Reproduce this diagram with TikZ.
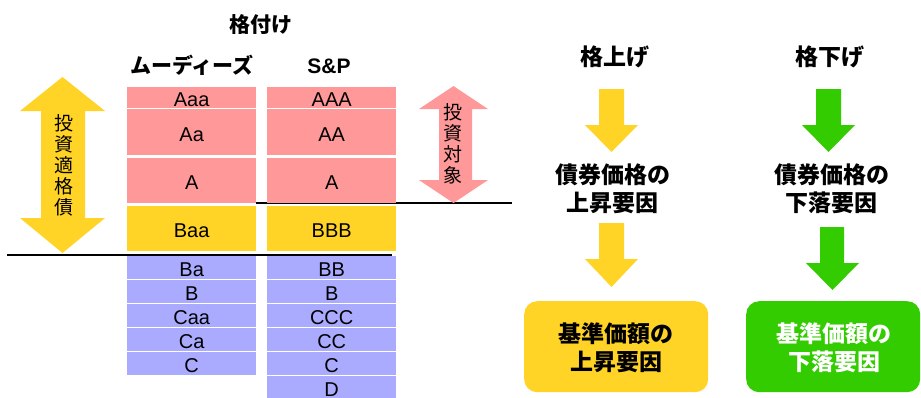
\documentclass[tikz,border=0pt]{standalone}
\usepackage{fontspec}
\setmainfont{Liberation Sans}
\newfontfamily\jp{Noto Sans CJK JP}
\definecolor{pinkc}{RGB}{255,153,153}
\definecolor{yellowc}{RGB}{255,212,38}
\definecolor{bluec}{RGB}{170,170,255}
\definecolor{greenc}{RGB}{51,204,0}
\begin{document}
\begin{tikzpicture}[x=1pt,y=-1pt,
  rate/.style={anchor=north west, inner sep=0pt, minimum width=129pt, text height=18pt, text depth=0pt, font=\fontsize{20}{24}\selectfont},
  head/.style={inner sep=0pt, font=\jp\bfseries\fontsize{21}{24}\selectfont},
  vtext/.style={inner sep=0pt, align=center, font=\jp\fontsize{19}{21}\selectfont},
  rtext/.style={inner sep=0pt, align=center, font=\jp\bfseries\fontsize{23}{28}\selectfont},
  rule/.style={black, line width=1.5pt},
  resbox/.style={rounded corners=13pt, minimum width=184pt, minimum height=91pt, inner sep=0pt, anchor=north west}
]
\fill[white] (0,0) rectangle (921,397);
\useasboundingbox (0,0) rectangle (921,397);

% headings
\node[head] (kakuzuke) at (261,25) {格付け};
\node[head] (moodys) at (192,65) {ムーディーズ};
\node[inner sep=0pt, font=\bfseries\fontsize{21}{24}\selectfont] (sp) at (329,66) {S\&P};

% rules
\coordinate (l1a) at (7,255);
\coordinate (l1b) at (392,255);
\coordinate (l2a) at (256,203);
\coordinate (l2b) at (512,203);
\draw[rule] (l1a) -- (l1b);
\draw[rule] (l2a) -- (l2b);

% Moody's
\node[rate, fill=pinkc, minimum height=21pt] (m1) at (127,87) {Aaa};
\node[rate, fill=pinkc, minimum height=46pt] (m2) at (127,109) {Aa};
\node[rate, fill=pinkc, minimum height=45pt] (m3) at (127,158) {A};
\node[rate, fill=yellowc, minimum height=45pt] (m4) at (127,206) {Baa};
\node[rate, fill=bluec, minimum height=23pt] (m5) at (127,256) {Ba};
\node[rate, fill=bluec, minimum height=23pt] (m6) at (127,280) {B};
\node[rate, fill=bluec, minimum height=23pt] (m7) at (127,304) {Caa};
\node[rate, fill=bluec, minimum height=23pt] (m8) at (127,328) {Ca};
\node[rate, fill=bluec, minimum height=23pt] (m9) at (127,352) {C};

% S&P
\node[rate, fill=pinkc, minimum height=21pt] (s1) at (267,87) {AAA};
\node[rate, fill=pinkc, minimum height=46pt] (s2) at (267,109) {AA};
\node[rate, fill=pinkc, minimum height=45pt] (s3) at (267,158) {A};
\node[rate, fill=yellowc, minimum height=45pt] (s4) at (267,206) {BBB};
\node[rate, fill=bluec, minimum height=23pt] (s5) at (267,256) {BB};
\node[rate, fill=bluec, minimum height=23pt] (s6) at (267,280) {B};
\node[rate, fill=bluec, minimum height=23pt] (s7) at (267,304) {CCC};
\node[rate, fill=bluec, minimum height=23pt] (s8) at (267,328) {CC};
\node[rate, fill=bluec, minimum height=23pt] (s9) at (267,352) {C};
\node[rate, fill=bluec, minimum height=23pt] (s10) at (267,376) {D};

% double arrows
\fill[yellowc] (62.5,77) -- (105,111) -- (85,111) -- (85,218) -- (105,218) -- (62.5,253)
  -- (20,218) -- (41,218) -- (41,111) -- (20,111) -- cycle;
\node[vtext] (tekikaku) at (64,165) {投\\資\\適\\格\\債};
\fill[pinkc] (453.5,86) -- (488,109) -- (472,109) -- (472,180) -- (488,180) -- (453.5,203)
  -- (419,180) -- (439,180) -- (439,109) -- (419,109) -- cycle;
\node[vtext] (taisho) at (453,144) {投\\資\\対\\象};

% right side
\node[head, font=\jp\bfseries\fontsize{23}{26}\selectfont] (up) at (615,57) {格上げ};
\node[head, font=\jp\bfseries\fontsize{23}{26}\selectfont] (down) at (830,57) {格下げ};

\fill[yellowc] (599,89) -- (624,89) -- (624,125) -- (638,125) -- (611.5,152) -- (585,125) -- (599,125) -- cycle;
\fill[yellowc] (599,223) -- (624,223) -- (624,259) -- (638,259) -- (611.5,287) -- (585,259) -- (599,259) -- cycle;
\fill[greenc] (816,89) -- (841,89) -- (841,125) -- (855,125) -- (828.5,152) -- (802,125) -- (816,125) -- cycle;
\fill[greenc] (820,227) -- (844,227) -- (844,263) -- (859,263) -- (832.5,290) -- (806,263) -- (820,263) -- cycle;

\node[rtext] (bup) at (612.5,189) {債券価格の\\上昇要因};
\node[rtext] (bdown) at (831.5,189) {債券価格の\\下落要因};

\node[resbox, fill=yellowc] (fup) at (524,301) {};
\node[rtext] (fupt) at (616,347.5) {基準価額の\\上昇要因};
\node[resbox, fill=greenc, minimum width=174pt] (fdown) at (746,301) {};
\node[rtext, text=white] (fdownt) at (834,347.5) {基準価額の\\下落要因};
\end{tikzpicture}
\end{document}
